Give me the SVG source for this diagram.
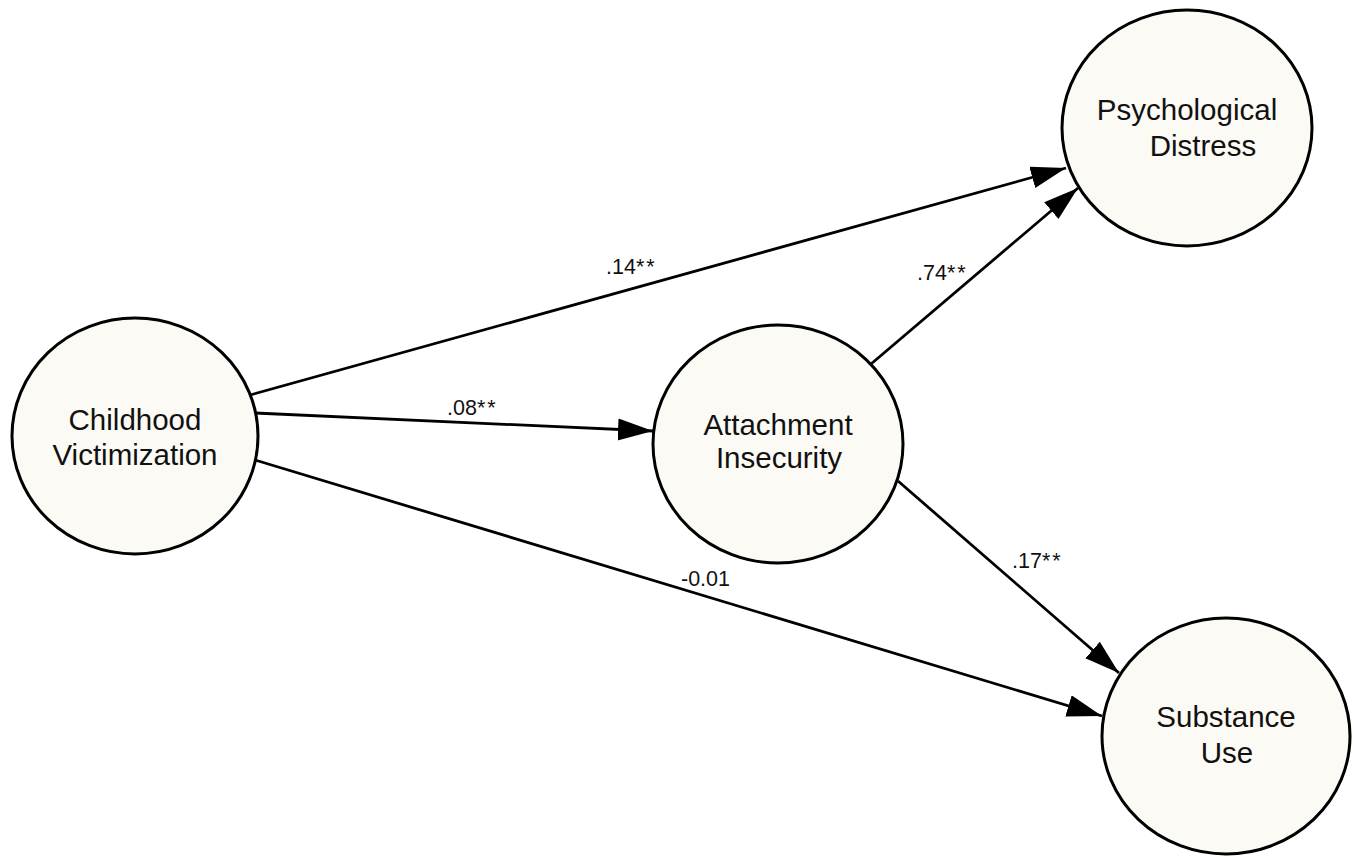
<svg xmlns="http://www.w3.org/2000/svg" width="1360" height="857" viewBox="0 0 1360 857">
<style>
.node{fill:#fcfaf5;stroke:#000;stroke-width:3}
.lbl{font-family:"Liberation Sans",Arial,sans-serif;font-size:29.5px;fill:#111;text-anchor:middle}
.coef{font-family:"Liberation Sans",Arial,sans-serif;font-size:21.5px;fill:#111}
.st{letter-spacing:2px}
.edge{stroke:#000;stroke-width:2.8;fill:none;marker-end:url(#ah)}
</style>
<defs>
<marker id="ah" markerUnits="userSpaceOnUse" markerWidth="37" markerHeight="24" refX="35" refY="11" orient="auto">
<path d="M0,0 L35,11 L0,22 Z" fill="#000"/>
</marker>
</defs>
<rect width="1360" height="857" fill="#fff"/>
<g id="connectors">
<line class="edge" x1="250" y1="395" x2="1066" y2="168"/>
<line class="edge" x1="255" y1="413" x2="653" y2="431"/>
<line class="edge" x1="871" y1="364" x2="1078" y2="188"/>
<line class="edge" x1="898" y1="481" x2="1119" y2="673"/>
<line class="edge" x1="255" y1="460" x2="1102" y2="716"/>
</g>
<g id="labels">
<text class="coef" x="606" y="274">.14<tspan class="st">**</tspan></text>
<text class="coef" x="447" y="415">.08<tspan class="st">**</tspan></text>
<text class="coef" x="917" y="280">.74<tspan class="st">**</tspan></text>
<text class="coef" x="1012" y="568">.17<tspan class="st">**</tspan></text>
<text class="coef" x="681" y="586">-0.01</text>
</g>
<g id="node-childhood">
<ellipse class="node" cx="135" cy="436" rx="123" ry="118"/>
<text class="lbl" x="135" y="430">Childhood</text>
<text class="lbl" x="135" y="465">Victimization</text>
</g>
<g id="node-attachment">
<ellipse class="node" cx="778" cy="444" rx="125" ry="119"/>
<text class="lbl" x="778" y="435">Attachment</text>
<text class="lbl" x="779" y="468">Insecurity</text>
</g>
<g id="node-psych">
<ellipse class="node" cx="1187" cy="128" rx="125" ry="118"/>
<text class="lbl" x="1187" y="120">Psychological</text>
<text class="lbl" x="1203" y="156">Distress</text>
</g>
<g id="node-substance">
<ellipse class="node" cx="1226" cy="736" rx="124" ry="118"/>
<text class="lbl" x="1226" y="727">Substance</text>
<text class="lbl" x="1227" y="763">Use</text>
</g>
</svg>
